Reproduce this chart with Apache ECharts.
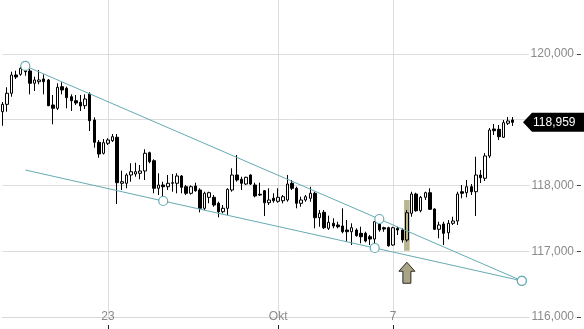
<!DOCTYPE html>
<html>
<head>
<meta charset="utf-8">
<script src="https://cdn.jsdelivr.net/npm/echarts@6/dist/echarts.min.js"></script>
<style>
html,body{margin:0;padding:0;background:#fff;}
#c{width:584px;height:329px;}
</style>
</head>
<body>
<div id="c"></div>
<script>
// ---- data ----
const slotCount = 126;
const tickIdx = [23, 60, 85];
const tickText = ['23', 'Okt', '7'];

const opens = [119.120,119.232,119.400,119.678,119.688,119.754,119.739,119.552,119.576,119.617,
119.602,119.222,119.172,119.500,119.476,119.348,119.287,119.263,119.211,119.389,
118.994,118.655,118.488,118.640,118.679,118.731,118.032,118.032,118.158,118.173,
118.184,118.219,118.497,118.375,117.956,118.006,117.980,118.032,118.032,118.143,
117.980,117.880,117.991,117.930,117.652,117.819,117.819,117.728,117.600,117.652,
117.930,118.158,118.093,118.021,118.158,118.006,117.865,117.919,117.737,117.804,
117.758,117.767,117.778,118.032,117.956,117.728,117.778,117.804,117.880,117.509,
117.591,117.348,117.424,117.398,117.383,117.322,117.296,117.322,117.272,117.272,
117.220,117.185,117.409,117.357,117.357,117.094,117.348,117.322,117.170,117.576,
117.869,117.615,117.819,117.889,117.641,117.333,117.413,117.281,117.424,117.459,
117.904,117.889,117.980,117.904,118.158,118.108,118.447,118.857,118.852,118.731,
118.944,118.994];
const closes = [119.232,119.400,119.678,119.647,119.780,119.728,119.552,119.602,119.602,119.576,
119.211,119.172,119.491,119.450,119.333,119.287,119.252,119.207,119.313,118.983,
118.655,118.477,118.649,118.690,118.740,118.041,118.056,118.158,118.208,118.208,
118.219,118.488,118.360,117.956,118.006,117.980,118.032,118.041,118.143,117.971,
117.880,117.980,117.919,117.652,117.880,117.889,117.702,117.600,117.652,117.941,
118.158,118.082,118.032,118.123,118.021,117.839,117.854,117.737,117.778,117.767,
117.819,117.828,118.021,117.956,117.728,117.778,117.828,117.880,117.509,117.576,
117.357,117.439,117.383,117.372,117.296,117.296,117.357,117.236,117.220,117.155,
117.185,117.448,117.322,117.337,117.083,117.357,117.322,117.170,117.585,117.869,
117.615,117.819,117.889,117.637,117.333,117.398,117.272,117.424,117.459,117.869,
117.880,117.980,117.904,118.158,118.117,118.447,118.842,118.831,118.740,118.953,
118.979,118.959];
const lows = [118.907,119.120,119.348,119.617,119.667,119.667,119.384,119.435,119.536,119.384,
119.205,118.929,119.146,119.384,119.172,119.131,119.222,119.131,119.161,118.827,
118.573,118.421,118.470,118.614,118.660,117.717,117.930,117.956,118.056,118.132,
118.093,118.082,118.336,117.880,117.854,117.820,117.930,117.904,117.880,117.880,
117.854,117.860,117.904,117.590,117.626,117.728,117.676,117.515,117.576,117.550,
117.904,118.056,117.930,118.006,118.006,117.819,117.839,117.535,117.702,117.737,
117.737,117.728,117.752,117.930,117.652,117.676,117.752,117.752,117.348,117.372,
117.337,117.322,117.348,117.348,117.272,117.144,117.094,117.220,117.120,117.135,
117.094,117.049,117.296,117.296,117.068,117.083,117.246,117.129,117.144,117.524,
117.600,117.590,117.778,117.626,117.322,117.196,117.094,117.181,117.398,117.398,
117.804,117.819,117.854,117.535,118.036,118.067,118.416,118.766,118.690,118.720,
118.918,118.903];
const highs = [119.267,119.491,119.728,119.743,119.800,119.815,119.769,119.652,119.754,119.688,
119.617,119.374,119.552,119.567,119.500,119.384,119.374,119.374,119.384,119.415,
119.035,118.690,118.705,118.716,118.781,118.781,118.223,118.184,118.336,118.345,
118.310,118.549,118.512,118.397,118.184,118.056,118.158,118.173,118.184,118.158,
118.006,118.000,118.041,117.956,117.904,117.904,117.854,117.752,117.702,117.956,
118.260,118.462,118.132,118.132,118.169,118.041,118.041,117.930,117.956,117.880,
117.956,117.854,118.158,118.082,117.980,117.828,117.854,117.980,117.904,117.626,
117.626,117.540,117.500,117.448,117.652,117.474,117.424,117.348,117.372,117.296,
117.246,117.459,117.489,117.372,117.372,117.372,117.372,117.348,117.626,117.904,
117.889,117.840,117.904,117.956,117.652,117.448,117.448,117.474,117.524,117.904,
118.006,118.082,118.021,118.436,118.234,118.492,118.872,118.933,118.918,118.994,
119.039,119.039];

// trend lines (category index, value)
const upperLine = [[5,119.815],[82,117.489],[113,116.55]];
const lowerLine = [[5,118.234],[35,117.763],[81,117.049],[113,116.55]];
const lowerCircles = [false, true, true, true];
// signal candle highlight and arrow
const signalIdx = 88;
const signalBand = [117.007, 117.778];
const arrowTip = 116.832;

// ---- chart ----
const TEAL = '#66abb3';
const FONT = 'Liberation Sans, Arial, sans-serif';
const categories = [];
for (let i = 0; i < slotCount; i++) categories.push(String(i));
const candleData = opens.map((o, i) => [o, closes[i], lows[i], highs[i]]);
const lastClose = closes[closes.length - 1];
const showTick = (i) => tickIdx.indexOf(i) >= 0;
const fmt = (v) => v.toFixed(3).replace('.', ',');

const chart = echarts.init(document.getElementById('c'), null, {renderer: 'canvas'});
chart.setOption({
  animation: false,
  backgroundColor: '#fff',
  grid: {left: 2.3, right: 7, top: -12, bottom: 12, containLabel: false, outerBoundsMode: 'none'},
  xAxis: [{
    type: 'category', data: categories, boundaryGap: false,
    axisLine: {show: true, lineStyle: {color: '#d8d8d8', width: 1}},
    axisTick: {show: false},
    axisLabel: {
      interval: (i) => showTick(i), margin: -6, color: '#8a8a8a', fontSize: 12, fontFamily: FONT,
      hideOverlap: false,
      formatter: (v, i) => { const k = tickIdx.indexOf(Number(v)); return k >= 0 ? tickText[k] : ''; }
    },
    splitLine: {show: true, interval: (i) => showTick(i), lineStyle: {color: '#dcdcdc', width: 1}}
  }, {
    type: 'category', data: categories, boundaryGap: false, position: 'bottom', offset: 8,
    gridIndex: 0,
    axisLine: {show: false},
    axisTick: {show: true, interval: (i) => showTick(i), length: 4, lineStyle: {color: '#222', width: 1}},
    axisLabel: {show: false},
    splitLine: {show: false}
  }],
  yAxis: {
    type: 'value', position: 'right', min: 116, max: 121, interval: 1,
    axisLine: {show: false},
    axisTick: {show: true, inside: false, length: 4, lineStyle: {color: '#444', width: 1}},
    axisLabel: {
      inside: true, margin: 2, color: '#8a8a8a', fontSize: 12, fontFamily: FONT,
      backgroundColor: '#fff', padding: [0, 1, 0, 2], formatter: fmt, hideOverlap: false
    },
    splitLine: {show: true, lineStyle: {color: '#dcdcdc', width: 1}}
  },
  series: [
    {
      type: 'custom', xAxisIndex: 0, z: 1, silent: true,
      data: [[signalIdx, signalBand[0], signalBand[1]]],
      renderItem: (params, api) => {
        const t = api.coord([api.value(0), api.value(2)]);
        const b = api.coord([api.value(0), api.value(1)]);
        return {type: 'rect', shape: {x: t[0] - 2.8, y: t[1], width: 5.6, height: b[1] - t[1]},
                style: {fill: '#bab591'}};
      }
    },
    {
      type: 'candlestick', xAxisIndex: 0, z: 3, data: candleData, barWidth: 3,
      itemStyle: {color: 'rgba(255,255,255,0)', color0: '#000', borderColor: '#000', borderColor0: '#000', borderWidth: 1}
    },
    {
      type: 'line', xAxisIndex: 0, z: 4, data: upperLine, symbol: 'circle', symbolSize: 9,
      showSymbol: true, showAllSymbol: true,
      lineStyle: {color: TEAL, width: 1}, itemStyle: {color: '#fff', borderColor: TEAL, borderWidth: 1.2},
      silent: true
    },
    {
      type: 'line', xAxisIndex: 0, z: 4,
      data: lowerLine.map((p, i) => lowerCircles[i] ? p : {value: p, symbol: 'none'}),
      symbol: 'circle', symbolSize: 9, showSymbol: true, showAllSymbol: true,
      lineStyle: {color: TEAL, width: 1}, itemStyle: {color: '#fff', borderColor: TEAL, borderWidth: 1.2},
      silent: true
    },
    {
      type: 'custom', xAxisIndex: 0, z: 5, silent: true,
      data: [[signalIdx, arrowTip]],
      renderItem: (params, api) => {
        const p = api.coord([api.value(0), api.value(1)]);
        const x = p[0], y = p[1];
        return {type: 'polygon', shape: {points: [[x, y], [x + 8, y + 9], [x + 4, y + 9], [x + 4, y + 21],
                  [x - 4, y + 21], [x - 4, y + 9], [x - 8, y + 9]]},
                style: {fill: '#a9a584', stroke: '#2a2a2a', lineWidth: 1}};
      }
    }
  ]
});

// last price tag
const ty = chart.convertToPixel({yAxisIndex: 0}, lastClose);
chart.setOption({
  graphic: [{
    type: 'group', z: 100, zlevel: 1,
    children: [
      {type: 'polygon', z: 100, zlevel: 1,
       shape: {points: [[523, ty], [532, ty - 9.5], [584, ty - 9.5], [584, ty + 9.5], [532, ty + 9.5]]},
       style: {fill: '#000'}},
      {type: 'text', z: 101, zlevel: 1, x: 533, y: ty,
       style: {text: fmt(lastClose), fill: '#fff', font: '12px ' + FONT, verticalAlign: 'middle', textAlign: 'left'}}
    ]
  }]
});
</script>
</body>
</html>
